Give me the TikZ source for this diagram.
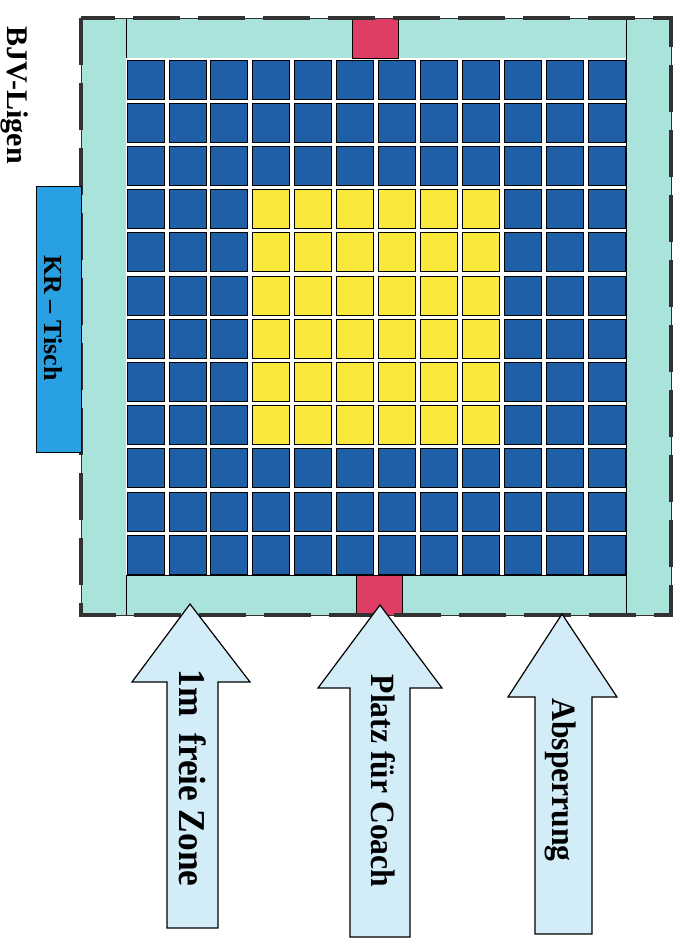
\documentclass[tikz,border=0pt]{standalone}
\usepackage{fontspec}
\setmainfont{Liberation Serif}
\definecolor{zone}{RGB}{170,226,220}
\definecolor{tileblue}{RGB}{30,95,165}
\definecolor{tileyellow}{RGB}{250,232,60}
\definecolor{coachred}{RGB}{222,62,100}
\definecolor{tischblue}{RGB}{40,160,225}
\definecolor{arrowfill}{RGB}{210,236,248}
\definecolor{fence}{RGB}{50,50,50}

\begin{document}
\begin{tikzpicture}[x=1pt,y=-1pt,line join=miter,
  every node/.style={font=\bfseries\fontsize{26}{30}\selectfont,inner sep=0pt},
  tile/.style={draw=black,line width=0.8pt},
  mark box/.style={draw=black,line width=0.8pt},
  pointer/.style={draw=black,line width=1.2pt,fill=arrowfill},
  arrow text/.style={rotate=-90,xscale=0.93,font=\bfseries\fontsize{34}{36}\selectfont}]
  \useasboundingbox (0,0) rectangle (679,939);

  % Free zone round the mat
  \fill[zone] (81,18) rectangle (671,615);
  \draw[line width=0.8pt] (126,18) -- (126,615) (626,18) -- (626,615);
  \draw[line width=0.8pt] (126,58) -- (626,58) (126,575) -- (626,575);
  \fill[white] (126,58) rectangle (626,575);

  % Coach places
  \draw[mark box,fill=coachred] (352,18) rectangle (398,58);
  \draw[mark box,fill=coachred] (356,575) rectangle (402,615);

  % Mat tiles
  \foreach \i in {0,...,11}
    \foreach \j in {0,...,11}
      \draw[tile,fill=tileblue] ({127+41.9*\i},{60+43.2*\j}) rectangle +(37,39);
  \foreach \i in {3,...,8}
    \foreach \j in {3,...,8}
      \draw[tile,fill=tileyellow] ({127+41.9*\i},{60+43.2*\j}) rectangle +(37,39);

  % Fence
  \draw[fence,line width=0.8pt] (81,18) rectangle (671,615);
  \draw[fence,line width=3.5pt,dash pattern=on 47pt off 18pt] (81,18) rectangle (671,615);

  % Judges table
  \draw[mark box,fill=tischblue] (36,186) rectangle (81,452);
  \node[rotate=-90] (tisch) at (53,318) {KR -- Tisch};
  \node[rotate=-90,font=\bfseries\fontsize{30}{32}\selectfont] (ligen) at (15,95) {BJV-Ligen};

  % Arrows
  \draw[pointer] (190,604) -- (250,682) -- (218,682) -- (218,928) -- (167,928)
    -- (167,682) -- (132,682) -- cycle;
  \draw[pointer] (380,605) -- (442,688) -- (410,688) -- (410,937) -- (350,937)
    -- (350,688) -- (318,688) -- cycle;
  \draw[pointer] (562,614) -- (617,697) -- (592,697) -- (592,934) -- (535,934)
    -- (535,697) -- (508,697) -- cycle;
  \node[arrow text,font=\bfseries\fontsize{38}{40}\selectfont] (zone) at (193,778)
    {1m\hspace{18pt}freie\hspace{9pt}Zone};
  \node[arrow text] (coach) at (383,781) {Platz für Coach};
  \node[arrow text] (sperre) at (561,780) {Absperrung};
\end{tikzpicture}
\end{document}
